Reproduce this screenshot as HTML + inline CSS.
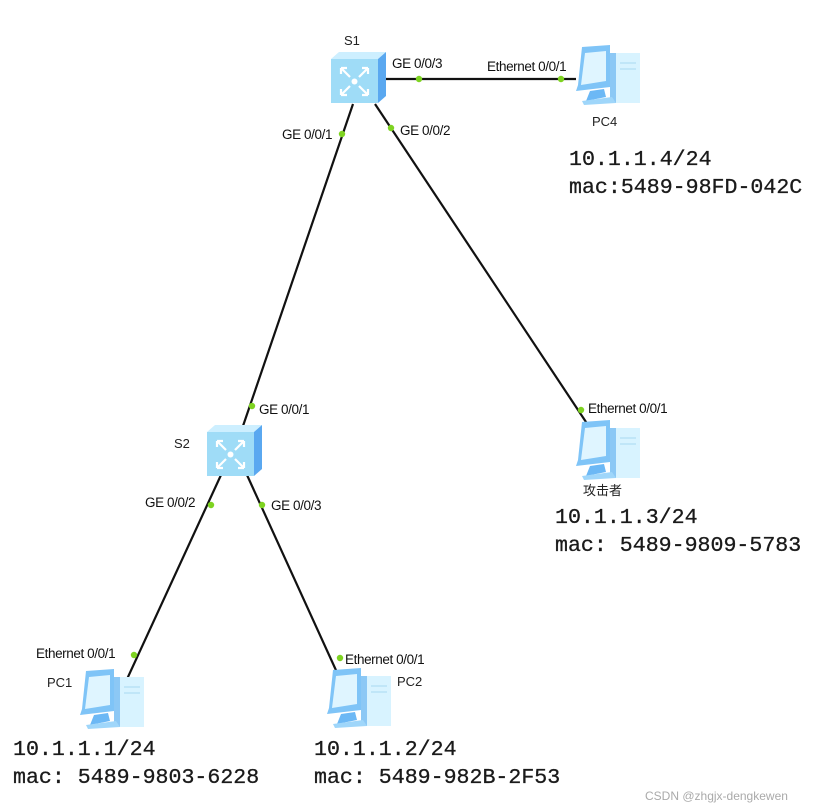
<!DOCTYPE html>
<html><head><meta charset="utf-8"><style>
html,body{margin:0;padding:0;background:#fff;}
svg{display:block}
.l{font-family:"Liberation Sans",Arial,sans-serif;font-size:13.5px;fill:#111;letter-spacing:-0.4px}
.n{font-family:"Liberation Sans","Noto Sans CJK SC",sans-serif;font-size:13px;fill:#222}
.m{font-family:"Liberation Mono","DejaVu Sans Mono",monospace;font-size:21.6px;fill:#1a1a1a;stroke:#1a1a1a;stroke-width:0.3px}
</style></head><body>
<svg width="827" height="810" viewBox="0 0 827 810" xmlns="http://www.w3.org/2000/svg">
<defs>
<g id="sw">
 <polygon points="0,7 8,0 55,0 47,7" fill="#cdefff"/>
 <polygon points="47,7 55,0 55,44 47,51" fill="#5aa8f0"/>
 <rect x="0" y="7" width="47" height="44" fill="#9fdcf7"/>
 <g stroke="#fff" stroke-width="2.2" fill="none">
  <path d="M10,16 L19,25 M10,16 L16,16 M10,16 L10,22"/>
  <path d="M37,16 L28,25 M37,16 L31,16 M37,16 L37,22"/>
  <path d="M10,43 L19,34 M10,43 L16,43 M10,43 L10,37"/>
  <path d="M37,43 L28,34 M37,43 L31,43 M37,43 L37,37"/>
 </g>
 <circle cx="23.5" cy="29.5" r="3" fill="#fff"/>
</g>
<g id="pc">
 <polygon points="40,8 64,8 64,58 40,58" fill="#d8f3ff"/>
 <polygon points="34,8 40,8 40,58 34,56" fill="#8cc8f5"/>
 <polygon points="6,2 34,0 34,42 0,46 2,40" fill="#7fc4f7"/>
 <polygon points="9,8 30,6 30,36 5,40" fill="#dff5ff"/>
 <polygon points="14,46 28,44 30,52 10,56" fill="#6cb8f5"/>
 <polygon points="6,56 36,52 40,58 8,60" fill="#9fd6fa"/>
 <line x1="44" y1="18" x2="60" y2="18" stroke="#a9d8f0"/>
 <line x1="44" y1="24" x2="60" y2="24" stroke="#a9d8f0"/>
</g>
</defs>
<g stroke="#111" stroke-width="2.2">
 <line x1="384" y1="79" x2="576" y2="79"/>
 <line x1="353" y1="104" x2="243" y2="426"/>
 <line x1="375" y1="104" x2="588" y2="425"/>
 <line x1="221" y1="475" x2="122" y2="690"/>
 <line x1="247" y1="475" x2="345" y2="690"/>
</g>
<g fill="#7ed321">
 <circle cx="419" cy="79" r="3.2"/><circle cx="561" cy="79" r="3.2"/>
 <circle cx="342" cy="134" r="3.2"/><circle cx="252" cy="406" r="3.2"/>
 <circle cx="391" cy="128" r="3.2"/><circle cx="581" cy="410" r="3.2"/>
 <circle cx="211" cy="505" r="3.2"/><circle cx="134" cy="655" r="3.2"/>
 <circle cx="262" cy="505" r="3.2"/><circle cx="340" cy="658" r="3.2"/>
</g>
<use href="#sw" x="331" y="52"/>
<use href="#sw" x="207" y="425"/>
<use href="#pc" x="576" y="45"/>
<use href="#pc" x="576" y="420"/>
<use href="#pc" x="80" y="669"/>
<use href="#pc" x="327" y="668"/>
<text class="l" x="392" y="68">GE 0/0/3</text>
<text class="l" x="487" y="71">Ethernet 0/0/1</text>
<text class="l" x="282" y="139">GE 0/0/1</text>
<text class="l" x="400" y="135">GE 0/0/2</text>
<text class="l" x="259" y="414">GE 0/0/1</text>
<text class="l" x="588" y="413">Ethernet 0/0/1</text>
<text class="l" x="145" y="507">GE 0/0/2</text>
<text class="l" x="271" y="510">GE 0/0/3</text>
<text class="l" x="36" y="658">Ethernet 0/0/1</text>
<text class="l" x="345" y="664">Ethernet 0/0/1</text>
<text class="n" x="344" y="45">S1</text>
<text class="n" x="174" y="448">S2</text>
<text class="n" x="592" y="126">PC4</text>
<text class="n" x="47" y="687">PC1</text>
<text class="n" x="397" y="686">PC2</text>
<text class="n" x="583" y="495">攻击者</text>
<text class="m" x="569" y="165">10.1.1.4/24</text>
<text class="m" x="569" y="193">mac:5489-98FD-042C</text>
<text class="m" x="555" y="523">10.1.1.3/24</text>
<text class="m" x="555" y="551">mac: 5489-9809-5783</text>
<text class="m" x="13" y="755">10.1.1.1/24</text>
<text class="m" x="13" y="783">mac: 5489-9803-6228</text>
<text class="m" x="314" y="755">10.1.1.2/24</text>
<text class="m" x="314" y="783">mac: 5489-982B-2F53</text>
<text x="645" y="800" style="font-family:'Liberation Sans',sans-serif;font-size:12px;fill:#aaa">CSDN @zhgjx-dengkewen</text>
</svg>
</body></html>
